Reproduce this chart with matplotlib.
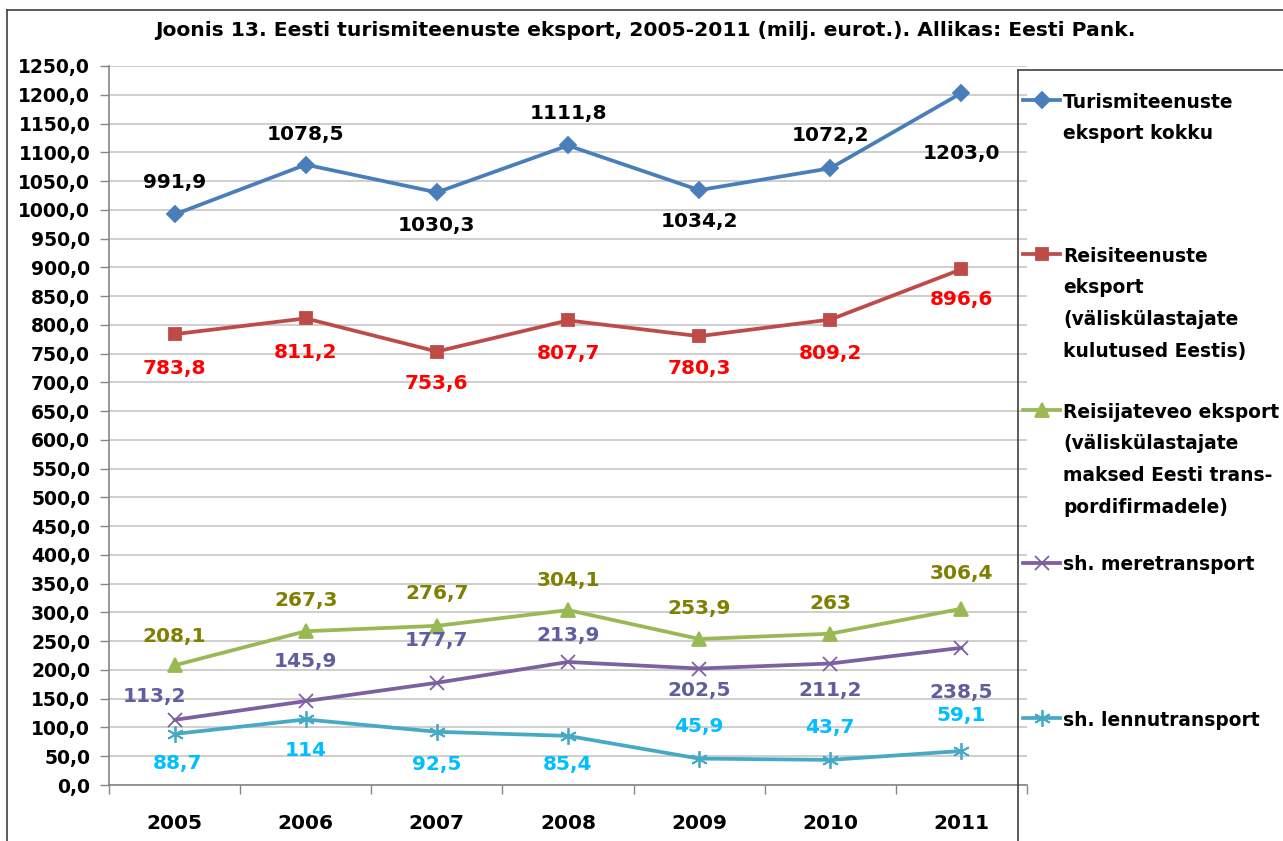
import matplotlib
matplotlib.use("Agg")
import matplotlib.pyplot as plt
from matplotlib.lines import Line2D
from matplotlib.ticker import FuncFormatter, FixedLocator
import numpy as np

plt.rcParams['font.family'] = ['DejaVu Sans']

years = ['2005', '2006', '2007', '2008', '2009', '2010', '2011']
turism = [991.9, 1078.5, 1030.3, 1111.8, 1034.2, 1072.2, 1203.0]
reisiteenused = [783.8, 811.2, 753.6, 807.7, 780.3, 809.2, 896.6]
reisijatevedu = [208.1, 267.3, 276.7, 304.1, 253.9, 263.0, 306.4]
meretransport = [113.2, 145.9, 177.7, 213.9, 202.5, 211.2, 238.5]
lennutransport = [88.7, 114.0, 92.5, 85.4, 45.9, 43.7, 59.1]

labels_turism = ['991,9', '1078,5', '1030,3', '1111,8', '1034,2', '1072,2', '1203,0']
labels_reisiteenused = ['783,8', '811,2', '753,6', '807,7', '780,3', '809,2', '896,6']
labels_reisijatevedu = ['208,1', '267,3', '276,7', '304,1', '253,9', '263', '306,4']
labels_mere = ['113,2', '145,9', '177,7', '213,9', '202,5', '211,2', '238,5']
labels_lennu = ['88,7', '114', '92,5', '85,4', '45,9', '43,7', '59,1']

legend_names = [
    ["Turismiteenuste", "eksport kokku"],
    ["Reisiteenuste", "eksport", "(väliskülastajate", "kulutused Eestis)"],
    ["Reisijateveo eksport", "(väliskülastajate", "maksed Eesti trans-", "pordifirmadele)"],
    ["sh. meretransport"],
    ["sh. lennutransport"],
]

title = "Joonis 13. Eesti turismiteenuste eksport, 2005-2011 (milj. eurot.). Allikas: Eesti Pank."

# label offsets in pixels (dx, dy; dy positive = above the point)
off_turism = [(0, 32), (0, 30), (0, -33), (0, 32), (0, -31), (0, 33), (0, -60)]
off_reisi = [(0, -34), (0, -34), (0, -32), (0, -33), (0, -32), (0, -34), (0, -30)]
off_vedu = [(0, 29), (0, 31), (0, 32), (0, 30), (0, 30), (0, 30), (0, 35)]
off_mere = [(-20, 23), (0, 40), (0, 42), (0, 26), (0, -22), (0, -27), (0, -45)]
off_lennu = [(3, -30), (0, -31), (0, -33), (0, -29), (0, 32), (0, 32), (0, 36)]

W, H = 1283, 841
fig = plt.figure(figsize=(W / 100, H / 100), dpi=100)

def px(x0, y0, x1, y1):
    return [x0 / W, 1 - y1 / H, (x1 - x0) / W, (y1 - y0) / H]

ax = fig.add_axes(px(109, 66, 1027, 785))

series = [
    (turism, labels_turism, '#4A7EBB', 'D', 8, 'black', off_turism),
    (reisiteenused, labels_reisiteenused, '#BE4B48', 's', 8.5, '#FF0000', off_reisi),
    (reisijatevedu, labels_reisijatevedu, '#98B954', '^', 10, '#7F7F00', off_vedu),
    (meretransport, labels_mere, '#7D60A0', 'x', 10, '#5F5F9F', off_mere),
    (lennutransport, labels_lennu, '#46AAC5', (6, 2, 0), 12, '#00BFFF', off_lennu),
]

x = np.arange(len(years))
for vals, labs, col, mk, ms, lcol, offs in series:
    ax.plot(x, vals, color=col, lw=2.7, marker=mk, ms=ms, mec=col, mfc=col,
            mew=1.3, zorder=3, clip_on=False)
    for xi, v, lab, (dx, dy) in zip(x, vals, labs, offs):
        ax.annotate(lab, (xi, v), xytext=(dx, dy), textcoords='offset pixels',
                    ha='center', va='center', fontsize=14.5, fontweight='bold',
                    color=lcol, zorder=4)

ax.set_xlim(-0.5, 6.5)
ax.set_ylim(0, 1250)
ax.yaxis.set_major_locator(FixedLocator(np.arange(0, 1251, 50)))
ax.yaxis.set_major_formatter(FuncFormatter(lambda v, p: f"{v:.1f}".replace('.', ',')))
ax.set_xticks(x)
ax.set_xticklabels(years)
ax.set_xticks(np.arange(-0.5, 7.0, 1.0), minor=True)
ax.tick_params(axis='x', which='major', length=0, pad=21, labelsize=14.5)
ax.tick_params(axis='x', which='minor', length=6.5, width=1, color='#868686', direction='out')
ax.tick_params(axis='y', which='major', length=6.5, width=1, color='#868686',
               direction='out', pad=7, labelsize=13.5)
for lab in ax.get_xticklabels() + ax.get_yticklabels():
    lab.set_fontweight('bold')
ax.grid(axis='y', color='#C6C6C6', lw=1.2)
ax.set_axisbelow(True)
for s in ['top', 'right']:
    ax.spines[s].set_visible(False)
for s in ['left', 'bottom']:
    ax.spines[s].set_color('#868686')
    ax.spines[s].set_linewidth(1.2)

fig.text(645 / W, 1 - 30 / H, title, ha='center', va='center', fontsize=14.6, fontweight='bold')

# outer frame
fig.add_artist(Line2D([7 / W, 7 / W], [0, 1 - 10 / H], transform=fig.transFigure, color='#404040', lw=1.2))
fig.add_artist(Line2D([7 / W, 1], [1 - 10 / H, 1 - 10 / H], transform=fig.transFigure, color='#404040', lw=1.2))

# legend box
lx0, ly0 = 1018, 70
fig.add_artist(Line2D([lx0 / W, lx0 / W], [0, 1 - ly0 / H], transform=fig.transFigure, color='#404040', lw=1.2))
fig.add_artist(Line2D([lx0 / W, 1], [1 - ly0 / H, 1 - ly0 / H], transform=fig.transFigure, color='#404040', lw=1.2))

leg_y = [100, 254, 410, 563, 718]
for (vals, labs, col, mk, ms, lcol, offs), lines, yy in zip(series, legend_names, leg_y):
    yf = 1 - yy / H
    fig.add_artist(Line2D([1023 / W, 1060 / W], [yf, yf], transform=fig.transFigure,
                          color=col, lw=2.7))
    fig.add_artist(Line2D([1041.5 / W], [yf], transform=fig.transFigure, color=col,
                          marker=mk, ms=ms, mec=col, mfc=col, mew=1.3, lw=0))
    for i, line in enumerate(lines):
        fig.text(1063 / W, 1 - (yy + i * 31.7) / H, line, ha='left', va='center_baseline',
                 fontsize=13.4, fontweight='bold')

fig.savefig('out.png', dpi=100)
